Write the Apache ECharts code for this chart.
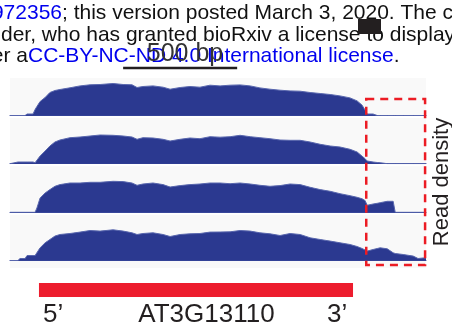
<!DOCTYPE html>
<html>
<head>
<meta charset="utf-8">
<script src="https://cdn.jsdelivr.net/npm/echarts@6/dist/echarts.min.js"></script>
<style>
  html, body { margin: 0; padding: 0; background: #fff; }
  #root { width: 452px; height: 332px; }
</style>
</head>
<body>
<div id="root"></div>
<script>
// genomic position (bp from left edge of the window)
const positions = [0, 35, 44, 66, 75, 101, 110, 118, 132, 154,
  175, 197, 219, 263, 307, 351, 395, 452, 496, 535,
  557, 583, 627, 671, 702, 746, 789, 833, 877, 921,
  965, 1009, 1053, 1096, 1140, 1184, 1228, 1272, 1316, 1360,
  1404, 1447, 1491, 1522, 1544, 1557, 1566, 1592, 1610, 1623,
  1654, 1680, 1689, 1724, 1768, 1789, 1811, 1824]

// read density per track
const track1 = [0, 0, 0, 0, 1.5, 1.5, 6, 9, 14, 18,
  23, 25, 26, 27.7, 29.6, 30.7, 31, 32, 31, 30.7,
  28, 29, 29.6, 28.3, 26.3, 28, 29, 28.3, 30.3, 29.6,
  30.3, 30.6, 29.6, 27.6, 26.3, 25.3, 24.6, 24.3, 23, 22,
  21, 19.6, 17.6, 14.6, 10.3, 5.3, 1.5, 1.5, 0, 0,
  0, 0, 0, 0, 0, 0, 0, 0]
const track2 = [0, 1.7, 1.7, 1.7, 1.7, 1.7, 1, 3, 7.7, 12.7,
  17.7, 21.7, 23.7, 26, 26.7, 27.7, 28.7, 28.4, 27.7, 26.7,
  24.4, 26, 25.7, 24.4, 22.7, 24.4, 25.7, 25, 27, 26.5,
  27, 28.4, 27, 26, 25, 23.7, 23.4, 23.4, 21.7, 19.4,
  17.7, 16.7, 14.4, 11.7, 7.5, 5, 2.7, 1.7, 1.2, 1,
  0, 0, 0, 0, 0, 0, 0, 0]
const track3 = [0, 0, 0, 0, 0, 0, 0, 4.3, 14.3, 19.3,
  22.7, 26, 27.7, 29.3, 29.3, 30, 30, 31, 30.7, 29.3,
  27, 28.3, 29.3, 27.7, 25.3, 26.7, 27.7, 28.3, 29.3, 29.3,
  28.6, 29.3, 28.3, 27, 26, 26.7, 28.3, 27.7, 25, 22.7,
  21, 18.6, 16.6, 15, 13.5, 11.7, 7, 8.3, 9, 9.6,
  11, 11, 0, 0, 0, 0, 0, 0]
const track4 = [0, 0, 2, 2, 5, 5, 5, 6, 12.7, 17.7,
  21, 24.4, 26, 27, 28.4, 30, 29.4, 30.7, 29.4, 27.7,
  26, 27, 27.7, 26, 24, 26, 26.7, 27, 28.4, 28.5,
  28.7, 30, 29.4, 27.7, 26.7, 25, 27, 26, 22.7, 21,
  19.4, 17.7, 16, 14, 12, 10.5, 9.4, 11, 12, 12.7,
  11.7, 7.7, 7, 6, 4.4, 2, 2.5, 2.5]

const tracks = [track1, track2, track3, track4]

// annotations in bp
const windowEnd = 1824
const geneStart = 127
const geneEnd = 1504
const scaleStart = 496
const scaleLength = 500
const boxStart = 1562
const boxEnd = 1820

const geneName = 'AT3G13110'

// layout of the four panels
const trackTops = [78, 118, 166.3, 214.8]
const trackBases = [115.5, 163.7, 212.3, 260.5]

const font = '"Liberation Sans", Arial, sans-serif'

const chart = echarts.init(document.getElementById('root'))

const grids = []
const xAxes = []
const yAxes = []
const series = []
tracks.forEach((t, i) => {
  const h = trackBases[i] - trackTops[i]
  grids.push({
    left: 10, width: 416, top: trackTops[i], height: h,
    show: true, backgroundColor: '#f9f9f9', borderWidth: 0
  })
  xAxes.push({
    type: 'value', gridIndex: i, min: 0, max: windowEnd,
    axisLine: { show: true, onZero: false, lineStyle: { color: '#3d4c9e', width: 1 } },
    axisTick: { show: false }, axisLabel: { show: false }, splitLine: { show: false }
  })
  yAxes.push({ type: 'value', gridIndex: i, min: 0, max: h, show: false })
  series.push({
    type: 'line', xAxisIndex: i, yAxisIndex: i,
    data: positions.map((p, j) => [p, t[j]]),
    symbol: 'none', silent: true,
    lineStyle: { width: 1, color: '#5866ad' },
    areaStyle: { color: '#2b3990', opacity: 1 }
  })
})

chart.setOption({
  animation: false,
  grid: grids,
  xAxis: xAxes,
  yAxis: yAxes,
  series: series
})

const px = (bp) => chart.convertToPixel({ xAxisIndex: 0 }, bp)
const ink = '#231f20'

chart.setOption({
  graphic: [
    // header text of the page (cut off)
    { type: 'text', x: 62, y: 13.3, style: { text: '2020.03.02.972356', align: 'right', verticalAlign: 'middle', font: '21px ' + font, fill: '#0000ee' } },
    { type: 'text', x: 62, y: 13.3, style: { text: '; this version posted March 3, 2020. The copyright holder', align: 'left', verticalAlign: 'middle', font: '21px ' + font, fill: '#111' } },
    { type: 'text', x: 1, y: 35, style: { text: 'der, who has granted bioRxiv a license to display the preprint', align: 'left', verticalAlign: 'middle', font: '21px ' + font, fill: '#111' } },
    { type: 'text', x: 28, y: 56.6, style: { text: 'It is made available under a', align: 'right', verticalAlign: 'middle', font: '21px ' + font, fill: '#111' } },
    {
      type: 'text', x: 28, y: 56.6,
      style: {
        text: '{b|CC-BY-NC-ND 4.0 International license}{k|.}', align: 'left', verticalAlign: 'middle', font: '21px ' + font,
        rich: { b: { fill: '#0000ee', font: '21px ' + font }, k: { fill: '#111', font: '21px ' + font } }
      }
    },
    { type: 'rect', shape: { x: 358, y: 19, width: 23, height: 15 }, style: { fill: ink } },
    // scale bar
    { type: 'line', shape: { x1: px(scaleStart), y1: 68, x2: px(scaleStart + scaleLength), y2: 68 }, style: { stroke: ink, lineWidth: 2.6 } },
    { type: 'text', x: 185, y: 54, z: 10, style: { text: scaleLength + ' bp', align: 'center', verticalAlign: 'middle', font: '25px ' + font, fill: '#333' } },
    // gray strip under last panel
    { type: 'rect', shape: { x: 10, y: 261, width: 416, height: 7 }, style: { fill: '#f9f9f9' } },
    // highlighted 3' region
    {
      type: 'rect', z: 100,
      shape: { x: px(boxStart), y: 99, width: px(boxEnd) - px(boxStart), height: 166 },
      style: { fill: 'none', stroke: '#ec1c24', lineWidth: 2.5, lineDash: [8, 6] }
    },
    { type: 'text', x: 442, y: 182, rotation: Math.PI / 2, style: { text: 'Read density', align: 'center', verticalAlign: 'middle', font: '22px ' + font, fill: ink } },
    // gene model
    { type: 'rect', shape: { x: px(geneStart), y: 283, width: px(geneEnd) - px(geneStart), height: 14 }, style: { fill: '#ed1c2e' } },
    { type: 'text', x: 43, y: 315, style: { text: '5\u2019', align: 'left', verticalAlign: 'middle', font: '26px ' + font, fill: ink } },
    { type: 'text', x: 206.5, y: 315, style: { text: geneName, align: 'center', verticalAlign: 'middle', font: '26px ' + font, fill: ink } },
    { type: 'text', x: 327, y: 315, style: { text: '3\u2019', align: 'left', verticalAlign: 'middle', font: '26px ' + font, fill: ink } }
  ]
})
</script>
</body>
</html>
